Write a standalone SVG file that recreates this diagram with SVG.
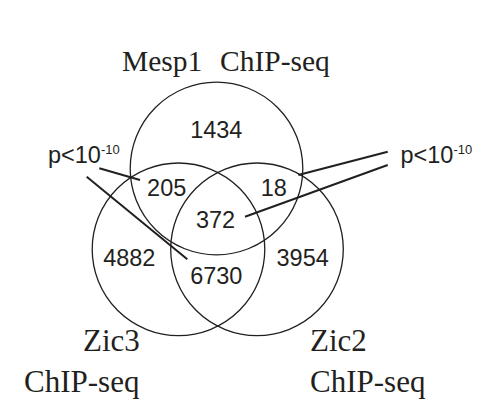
<svg xmlns="http://www.w3.org/2000/svg" width="486" height="405" viewBox="0 0 486 405">
<style>
.c{fill:none;stroke:#231f20;stroke-width:1.3}
.l{stroke:#231f20;stroke-width:2;fill:none}
.t{font-family:"Liberation Serif","Times New Roman",serif;fill:#231f20}
.n{font-family:"Liberation Sans",Arial,sans-serif;font-size:23.5px;fill:#231f20;text-anchor:middle}
.p{font-family:"Liberation Sans",Arial,sans-serif;font-size:23.5px;fill:#231f20}
</style>
<rect width="486" height="405" fill="#fff"/>
<g id="mesp1">
<circle class="c" cx="216.5" cy="168.5" r="86.3"/>
<text class="t" font-size="29.5" y="71"><tspan x="122">Mesp1</tspan><tspan x="220">ChIP-seq</tspan></text>
</g>
<g id="zic3">
<circle class="c" cx="178.5" cy="249.3" r="86.3"/>
<text class="t" font-size="31"><tspan x="83" y="351">Zic3</tspan><tspan x="24" y="391.5">ChIP-seq</tspan></text>
</g>
<g id="zic2">
<circle class="c" cx="257" cy="249.3" r="86.3"/>
<text class="t" font-size="31"><tspan x="310" y="351">Zic2</tspan><tspan x="310" y="391.5">ChIP-seq</tspan></text>
</g>
<g id="counts">
<text class="n" x="216.3" y="137.7">1434</text>
<text class="n" x="166.7" y="195.7">205</text>
<text class="n" x="273.7" y="195.7">18</text>
<text class="n" x="215.5" y="228.3">372</text>
<text class="n" x="129.3" y="265.7">4882</text>
<text class="n" x="302.7" y="265.7">3954</text>
<text class="n" x="216.3" y="284.3">6730</text>
</g>
<g id="pval-left">
<text class="p" x="48" y="163.3">p&lt;10<tspan font-size="13" dy="-9.5">-10</tspan></text>
</g>
<g id="pval-right">
<text class="p" x="400.5" y="163.3">p&lt;10<tspan font-size="13" dy="-9.5">-10</tspan></text>
</g>
<g id="connectors">
<line class="l" x1="99.3" y1="168.3" x2="140" y2="180"/>
<line class="l" x1="86.7" y1="176.7" x2="187.3" y2="259.3"/>
<line class="l" x1="298.3" y1="175" x2="387.7" y2="151.7"/>
<line class="l" x1="245" y1="216.7" x2="387.7" y2="165"/>
</g>
</svg>
